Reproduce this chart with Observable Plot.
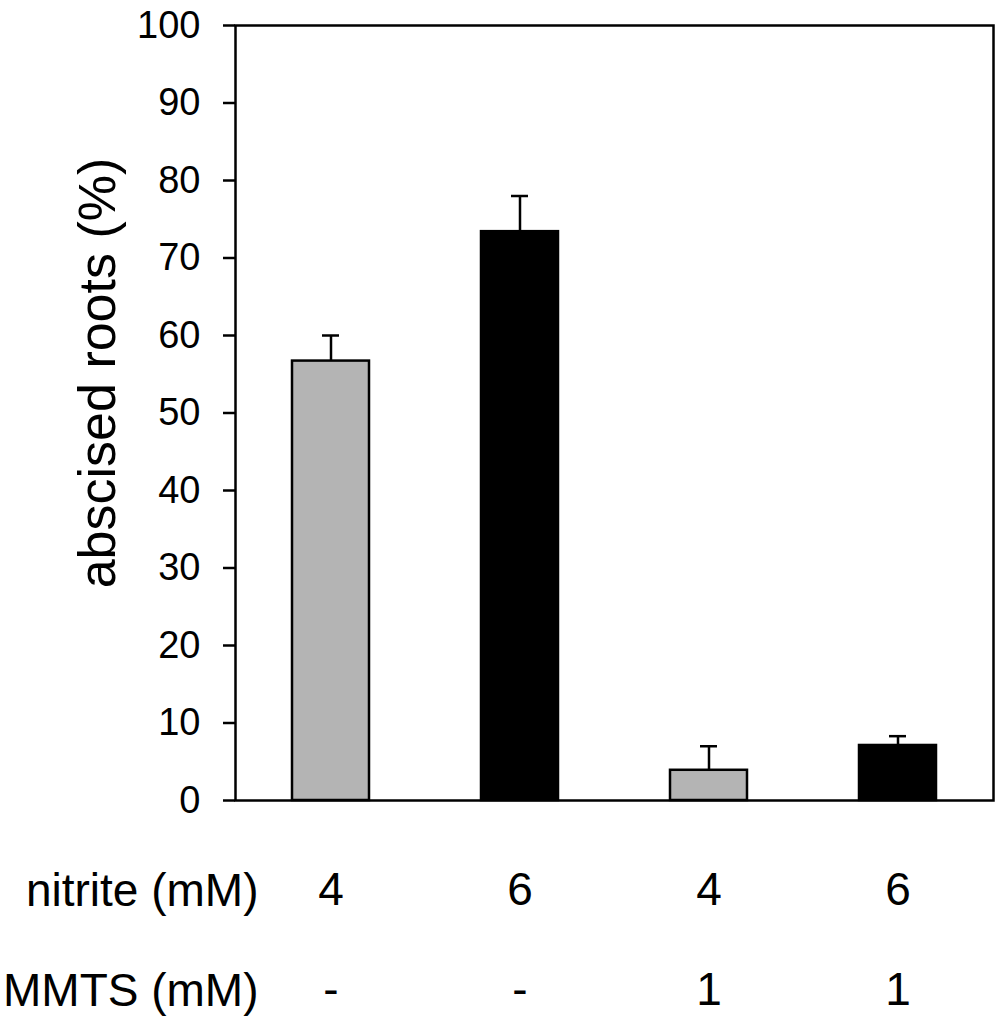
<!DOCTYPE html>
<html>
<head>
<meta charset="utf-8">
<script src="https://cdn.jsdelivr.net/npm/d3@7"></script>
<script src="https://cdn.jsdelivr.net/npm/@observablehq/plot@0.6"></script>
<style>
  html, body { margin: 0; padding: 0; background: #fff; }
  #chart svg { display: block; }
</style>
</head>
<body>
<div id="chart"></div>
<script>
const categories = ["nitrite 4", "nitrite 6", "nitrite 4 + MMTS 1", "nitrite 6 + MMTS 1"];
const values = [56.7, 73.4, 3.9, 7.1];
const errors = [3.3, 4.6, 3.1, 1.2];
const colors = ["#b4b4b4", "#000000", "#b4b4b4", "#000000"];
const nitriteLabels = ["4", "6", "4", "6"];
const mmtsLabels = ["-", "-", "1", "1"];
const yTicks = [0, 10, 20, 30, 40, 50, 60, 70, 80, 90, 100];
const yLabel = "abscised roots (%)";
const rowLabels = ["nitrite (mM)", "MMTS (mM)"];

const data = categories.map((c, i) => ({
  cat: c, value: values[i], err: errors[i], top: values[i] + errors[i], color: colors[i]
}));
const idx = c => categories.indexOf(c);

const font = "Liberation Sans, Arial, Helvetica, sans-serif";

const chart = Plot.plot({
  width: 1000,
  height: 1021,
  marginTop: 25,
  marginBottom: 221,
  marginLeft: 235,
  marginRight: 7,
  style: { fontFamily: font, color: "#000", background: "#fff" },
  x: { type: "band", domain: categories, padding: 0, axis: null },
  y: { domain: [0, 100], axis: null },
  marks: [
    Plot.ruleX(data, { x: "cat", y1: "value", y2: "top", stroke: "#000", strokeWidth: 2.5 }),
    Plot.tickY(data, { x: "cat", y: "top", stroke: "#000", strokeWidth: 2.5, insetLeft: 86, insetRight: 86 }),
    Plot.barY(data, { x: "cat", y: "value", fill: "color", stroke: "#000", strokeWidth: 2.5, insetLeft: 56, insetRight: 56 }),
    Plot.frame({ stroke: "#000", strokeWidth: 2.5 }),
    Plot.axisY({ ticks: yTicks, tickSize: 12, tickPadding: 23, fontSize: 38, tickFormat: d => String(d), strokeWidth: 2.5, label: null }),
    Plot.axisX({ tickSize: 0, tickPadding: 72, fontSize: 46, tickFormat: c => nitriteLabels[idx(c)], label: null }),
    Plot.axisX({ tickSize: 0, tickPadding: 172, fontSize: 46, tickFormat: c => mmtsLabels[idx(c)], label: null }),
    Plot.text([yLabel], { text: d => d, frameAnchor: "left", rotate: -90, textAnchor: "middle", lineAnchor: "bottom", dx: -121, dy: -40, fontSize: 52, fill: "#000" }),
    Plot.text([rowLabels[0]], { text: d => d, frameAnchor: "bottom-left", textAnchor: "end", lineAnchor: "bottom", dx: 23, dy: 105, fontSize: 46, fill: "#000" }),
    Plot.text([rowLabels[1]], { text: d => d, frameAnchor: "bottom-left", textAnchor: "end", lineAnchor: "bottom", dx: 23, dy: 205, fontSize: 46, fill: "#000" })
  ]
});
document.getElementById("chart").appendChild(chart);
</script>
</body>
</html>
